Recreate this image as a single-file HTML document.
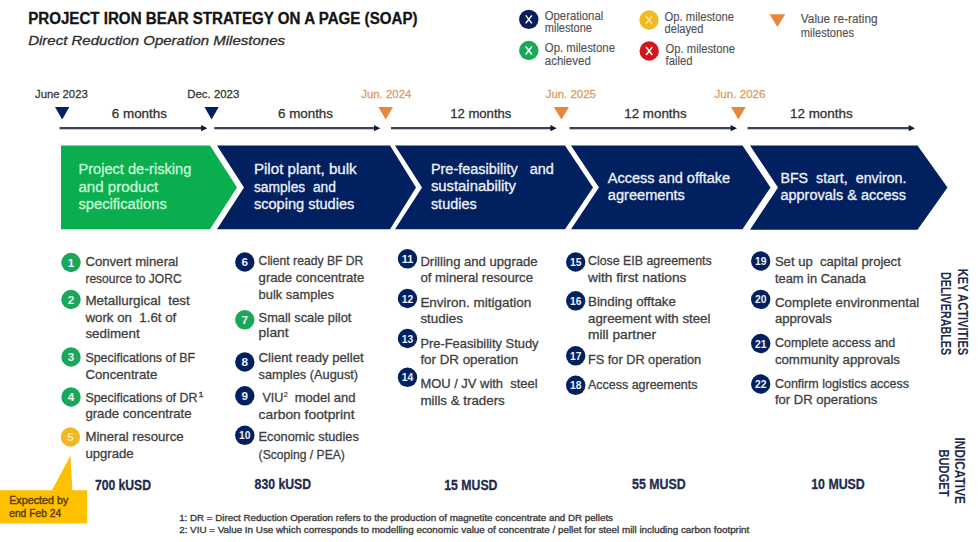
<!DOCTYPE html>
<html><head><meta charset="utf-8"><title>Project Iron Bear SOAP</title>
<style>
html,body{margin:0;padding:0;background:#ffffff;}
body{width:980px;height:542px;overflow:hidden;}
svg{display:block;font-family:"Liberation Sans", sans-serif;}
text{white-space:pre;}
</style></head><body>
<svg width="980" height="542" viewBox="0 0 980 542">
<rect width="980" height="542" fill="#ffffff"/>
<text x="28.2" y="24.4" font-size="16" fill="#141414" stroke="#141414" stroke-width="0.3" font-weight="bold" font-style="normal" textLength="389.3" lengthAdjust="spacingAndGlyphs" >PROJECT IRON BEAR STRATEGY ON A PAGE (SOAP)</text>
<text x="28.2" y="44.8" font-size="12.8" fill="#2e2e2e" stroke="#2e2e2e" stroke-width="0.3" font-weight="normal" font-style="italic" textLength="256.8" lengthAdjust="spacingAndGlyphs" >Direct Reduction Operation Milestones</text>
<circle cx="528.8" cy="19.4" r="9.7" fill="#0b1d5c"/>
<path d="M525.6999999999999,15.399999999999999 L531.9,23.4 M531.9,15.399999999999999 L525.6999999999999,23.4" stroke="#ffffff" stroke-width="1.5" fill="none"/>
<circle cx="528.8" cy="50.5" r="9.7" fill="#1ba855"/>
<path d="M525.6999999999999,46.5 L531.9,54.5 M531.9,46.5 L525.6999999999999,54.5" stroke="#ffffff" stroke-width="1.5" fill="none"/>
<circle cx="649" cy="20" r="9.7" fill="#f2b920"/>
<path d="M645.9,16 L652.1,24 M652.1,16 L645.9,24" stroke="#fbe6a0" stroke-width="1.5" fill="none"/>
<circle cx="649.2" cy="51" r="9.7" fill="#d3141c"/>
<path d="M646.1,47 L652.3000000000001,55 M652.3000000000001,47 L646.1,55" stroke="#ffffff" stroke-width="1.5" fill="none"/>
<text x="544.8" y="20.3" font-size="12" fill="#505050" stroke="#505050" stroke-width="0.12" font-weight="normal" font-style="normal" textLength="58.4" lengthAdjust="spacingAndGlyphs" >Operational</text>
<text x="544.8" y="32.4" font-size="12" fill="#505050" stroke="#505050" stroke-width="0.12" font-weight="normal" font-style="normal" textLength="47.1" lengthAdjust="spacingAndGlyphs" >milestone</text>
<text x="544.8" y="52.1" font-size="12" fill="#505050" stroke="#505050" stroke-width="0.12" font-weight="normal" font-style="normal" textLength="70.2" lengthAdjust="spacingAndGlyphs" >Op. milestone</text>
<text x="544.8" y="64.5" font-size="12" fill="#505050" stroke="#505050" stroke-width="0.12" font-weight="normal" font-style="normal" textLength="46.0" lengthAdjust="spacingAndGlyphs" >achieved</text>
<text x="664.5" y="21.2" font-size="12" fill="#505050" stroke="#505050" stroke-width="0.12" font-weight="normal" font-style="normal" textLength="69.5" lengthAdjust="spacingAndGlyphs" >Op. milestone</text>
<text x="664.5" y="33.0" font-size="12" fill="#505050" stroke="#505050" stroke-width="0.12" font-weight="normal" font-style="normal" textLength="39.0" lengthAdjust="spacingAndGlyphs" >delayed</text>
<text x="665.6" y="52.9" font-size="12" fill="#505050" stroke="#505050" stroke-width="0.12" font-weight="normal" font-style="normal" textLength="69.3" lengthAdjust="spacingAndGlyphs" >Op. milestone</text>
<text x="665.6" y="64.9" font-size="12" fill="#505050" stroke="#505050" stroke-width="0.12" font-weight="normal" font-style="normal" textLength="27.0" lengthAdjust="spacingAndGlyphs" >failed</text>
<polygon points="769.6,14.2 785.2,14.2 777.4,27.0" fill="#e8873a"/>
<text x="800.8" y="23.0" font-size="12" fill="#505050" stroke="#505050" stroke-width="0.12" font-weight="normal" font-style="normal" textLength="76.8" lengthAdjust="spacingAndGlyphs" >Value re-rating</text>
<text x="800.8" y="36.8" font-size="12" fill="#505050" stroke="#505050" stroke-width="0.12" font-weight="normal" font-style="normal" textLength="53.2" lengthAdjust="spacingAndGlyphs" >milestones</text>
<text x="35.0" y="98.4" font-size="11.5" fill="#3a3a3a" stroke="#3a3a3a" stroke-width="0.3" font-weight="normal" font-style="normal" textLength="52.7" lengthAdjust="spacingAndGlyphs" >June 2023</text>
<text x="187.3" y="97.6" font-size="11.5" fill="#3a3a3a" stroke="#3a3a3a" stroke-width="0.3" font-weight="normal" font-style="normal" textLength="52.0" lengthAdjust="spacingAndGlyphs" >Dec. 2023</text>
<text x="361.2" y="98.4" font-size="11.5" fill="#d9a066" stroke="#d9a066" stroke-width="0.3" font-weight="normal" font-style="normal" textLength="50.2" lengthAdjust="spacingAndGlyphs" >Jun. 2024</text>
<text x="545.7" y="98.2" font-size="11.5" fill="#d9a066" stroke="#d9a066" stroke-width="0.3" font-weight="normal" font-style="normal" textLength="50.2" lengthAdjust="spacingAndGlyphs" >Jun. 2025</text>
<text x="714.5" y="98.2" font-size="11.5" fill="#d9a066" stroke="#d9a066" stroke-width="0.3" font-weight="normal" font-style="normal" textLength="51.0" lengthAdjust="spacingAndGlyphs" >Jun. 2026</text>
<polygon points="55.0,107.0 69.4,107.0 62.2,119.5" fill="#002060"/>
<polygon points="204.5,107.0 218.7,107.0 211.6,119.5" fill="#002060"/>
<polygon points="378.4,107.0 393.0,107.0 385.7,119.5" fill="#e8873a"/>
<polygon points="553.8,107.0 569.0,107.0 561.4,119.5" fill="#e8873a"/>
<polygon points="731.0,107.0 745.7,107.0 738.4,119.5" fill="#e8873a"/>
<rect x="59.5" y="127" width="142.9" height="2.3" fill="#3b4456"/>
<polygon points="201.1,125.1 207.4,128.2 201.1,131.2" fill="#121a33"/>
<rect x="214.3" y="127" width="161.0" height="2.3" fill="#3b4456"/>
<polygon points="374.0,125.1 380.3,128.2 374.0,131.2" fill="#121a33"/>
<rect x="391" y="127" width="160.7" height="2.3" fill="#3b4456"/>
<polygon points="550.4,125.1 556.7,128.2 550.4,131.2" fill="#121a33"/>
<rect x="569.5" y="127" width="162.5" height="2.3" fill="#3b4456"/>
<polygon points="730.7,125.1 737.0,128.2 730.7,131.2" fill="#121a33"/>
<rect x="747.5" y="127" width="162.5" height="2.3" fill="#3b4456"/>
<polygon points="908.7,125.1 915.0,128.2 908.7,131.2" fill="#121a33"/>
<text x="111.8" y="117.5" font-size="13" fill="#333333" stroke="#333333" stroke-width="0.3" font-weight="normal" font-style="normal" textLength="55.2" lengthAdjust="spacingAndGlyphs" >6 months</text>
<text x="278.0" y="117.5" font-size="13" fill="#333333" stroke="#333333" stroke-width="0.3" font-weight="normal" font-style="normal" textLength="55.0" lengthAdjust="spacingAndGlyphs" >6 months</text>
<text x="450.2" y="117.5" font-size="13" fill="#333333" stroke="#333333" stroke-width="0.3" font-weight="normal" font-style="normal" textLength="61.2" lengthAdjust="spacingAndGlyphs" >12 months</text>
<text x="624.3" y="117.5" font-size="13" fill="#333333" stroke="#333333" stroke-width="0.3" font-weight="normal" font-style="normal" textLength="62.4" lengthAdjust="spacingAndGlyphs" >12 months</text>
<text x="790.0" y="117.5" font-size="13" fill="#333333" stroke="#333333" stroke-width="0.3" font-weight="normal" font-style="normal" textLength="62.6" lengthAdjust="spacingAndGlyphs" >12 months</text>
<polygon points="61.0,145.6 210.0,145.6 237.0,187.4 210.0,229.2 61.0,229.2" fill="#0aae4e"/>
<polygon points="217.0,145.6 390.0,145.6 416.0,187.4 390.0,229.2 217.0,229.2 244.0,187.4" fill="#002060"/>
<polygon points="395.0,145.6 565.0,145.6 593.0,187.4 565.0,229.2 395.0,229.2 422.0,187.4" fill="#002060"/>
<polygon points="571.0,145.6 742.5,145.6 770.5,187.4 742.5,229.2 571.0,229.2 599.0,187.4" fill="#002060"/>
<polygon points="750.0,145.6 917.5,145.6 947.5,187.4 917.5,229.8 750.0,229.8 778.0,187.4" fill="#002060"/>
<text x="78.4" y="174.0" font-size="14" fill="#c9f6d5" stroke="#c9f6d5" stroke-width="0.3" font-weight="normal" font-style="normal" textLength="113.0" lengthAdjust="spacingAndGlyphs" >Project de-risking</text>
<text x="78.4" y="191.5" font-size="14" fill="#c9f6d5" stroke="#c9f6d5" stroke-width="0.3" font-weight="normal" font-style="normal" textLength="79.8" lengthAdjust="spacingAndGlyphs" >and product</text>
<text x="78.4" y="209.0" font-size="14" fill="#c9f6d5" stroke="#c9f6d5" stroke-width="0.3" font-weight="normal" font-style="normal" textLength="88.4" lengthAdjust="spacingAndGlyphs" >specifications</text>
<text x="253.9" y="174.2" font-size="14" fill="#eef0f8" stroke="#eef0f8" stroke-width="0.3" font-weight="normal" font-style="normal" textLength="102.8" lengthAdjust="spacingAndGlyphs" >Pilot plant, bulk</text>
<text x="253.9" y="191.8" font-size="14" fill="#eef0f8" stroke="#eef0f8" stroke-width="0.3" font-weight="normal" font-style="normal" textLength="82.0" lengthAdjust="spacingAndGlyphs" >samples  and</text>
<text x="253.9" y="209.2" font-size="14" fill="#eef0f8" stroke="#eef0f8" stroke-width="0.3" font-weight="normal" font-style="normal" textLength="100.4" lengthAdjust="spacingAndGlyphs" >scoping studies</text>
<text x="430.9" y="173.7" font-size="14" fill="#eef0f8" stroke="#eef0f8" stroke-width="0.3" font-weight="normal" font-style="normal" textLength="123.0" lengthAdjust="spacingAndGlyphs" >Pre-feasibility   and</text>
<text x="430.9" y="191.3" font-size="14" fill="#eef0f8" stroke="#eef0f8" stroke-width="0.3" font-weight="normal" font-style="normal" textLength="85.0" lengthAdjust="spacingAndGlyphs" >sustainability</text>
<text x="430.9" y="208.7" font-size="14" fill="#eef0f8" stroke="#eef0f8" stroke-width="0.3" font-weight="normal" font-style="normal" textLength="45.8" lengthAdjust="spacingAndGlyphs" >studies</text>
<text x="607.8" y="182.8" font-size="14" fill="#eef0f8" stroke="#eef0f8" stroke-width="0.3" font-weight="normal" font-style="normal" textLength="122.4" lengthAdjust="spacingAndGlyphs" >Access and offtake</text>
<text x="607.8" y="200.2" font-size="14" fill="#eef0f8" stroke="#eef0f8" stroke-width="0.3" font-weight="normal" font-style="normal" textLength="77.1" lengthAdjust="spacingAndGlyphs" >agreements</text>
<text x="780.4" y="182.8" font-size="14" fill="#eef0f8" stroke="#eef0f8" stroke-width="0.3" font-weight="normal" font-style="normal" textLength="126.1" lengthAdjust="spacingAndGlyphs" >BFS  start,  environ.</text>
<text x="780.4" y="200.2" font-size="14" fill="#eef0f8" stroke="#eef0f8" stroke-width="0.3" font-weight="normal" font-style="normal" textLength="125.6" lengthAdjust="spacingAndGlyphs" >approvals &amp; access</text>
<circle cx="71" cy="262.5" r="9.7" fill="#1aa75a"/>
<text x="71" y="266.5" font-size="11" font-weight="bold" fill="#eef2fa" text-anchor="middle" textLength="6.5" lengthAdjust="spacingAndGlyphs">1</text>
<text x="85.4" y="266.2" font-size="13" fill="#3f3f3f" stroke="#3f3f3f" stroke-width="0.3" font-weight="normal" font-style="normal" textLength="92.9" lengthAdjust="spacingAndGlyphs" >Convert mineral</text>
<text x="85.4" y="282.8" font-size="13" fill="#3f3f3f" stroke="#3f3f3f" stroke-width="0.3" font-weight="normal" font-style="normal" textLength="96.2" lengthAdjust="spacingAndGlyphs" >resource to JORC</text>
<circle cx="71" cy="299.5" r="9.7" fill="#1aa75a"/>
<text x="71" y="303.5" font-size="11" font-weight="bold" fill="#eef2fa" text-anchor="middle" textLength="6.5" lengthAdjust="spacingAndGlyphs">2</text>
<text x="85.4" y="305.0" font-size="13" fill="#3f3f3f" stroke="#3f3f3f" stroke-width="0.3" font-weight="normal" font-style="normal" textLength="104.4" lengthAdjust="spacingAndGlyphs" >Metallurgical  test</text>
<text x="85.4" y="321.6" font-size="13" fill="#3f3f3f" stroke="#3f3f3f" stroke-width="0.3" font-weight="normal" font-style="normal" textLength="90.9" lengthAdjust="spacingAndGlyphs" >work on  1.6t of</text>
<text x="85.4" y="338.2" font-size="13" fill="#3f3f3f" stroke="#3f3f3f" stroke-width="0.3" font-weight="normal" font-style="normal" textLength="54.2" lengthAdjust="spacingAndGlyphs" >sediment</text>
<circle cx="71" cy="357" r="9.7" fill="#1aa75a"/>
<text x="71" y="361" font-size="11" font-weight="bold" fill="#eef2fa" text-anchor="middle" textLength="6.5" lengthAdjust="spacingAndGlyphs">3</text>
<text x="85.4" y="362.1" font-size="13" fill="#3f3f3f" stroke="#3f3f3f" stroke-width="0.3" font-weight="normal" font-style="normal" textLength="109.8" lengthAdjust="spacingAndGlyphs" >Specifications of BF</text>
<text x="85.4" y="378.8" font-size="13" fill="#3f3f3f" stroke="#3f3f3f" stroke-width="0.3" font-weight="normal" font-style="normal" textLength="72.0" lengthAdjust="spacingAndGlyphs" >Concentrate</text>
<circle cx="71" cy="397" r="9.7" fill="#1aa75a"/>
<text x="71" y="401" font-size="11" font-weight="bold" fill="#eef2fa" text-anchor="middle" textLength="6.5" lengthAdjust="spacingAndGlyphs">4</text>
<text x="85.4" y="401.8" font-size="13" fill="#3f3f3f" stroke="#3f3f3f" stroke-width="0.3" font-weight="normal" font-style="normal" textLength="112.1" lengthAdjust="spacingAndGlyphs" >Specifications of DR</text>
<text x="85.4" y="417.5" font-size="13" fill="#3f3f3f" stroke="#3f3f3f" stroke-width="0.3" font-weight="normal" font-style="normal" textLength="106.2" lengthAdjust="spacingAndGlyphs" >grade concentrate</text>
<text x="198.5" y="396.5" font-size="8" fill="#3f3f3f" stroke="#3f3f3f" stroke-width="0.3" font-weight="normal" font-style="normal" textLength="5.0" lengthAdjust="spacingAndGlyphs" >1</text>
<circle cx="70.4" cy="437" r="9.7" fill="#f2b824"/>
<text x="70.4" y="441" font-size="11" font-weight="bold" fill="#ffe7a6" text-anchor="middle" textLength="6.5" lengthAdjust="spacingAndGlyphs">5</text>
<text x="85.4" y="441.4" font-size="13" fill="#3f3f3f" stroke="#3f3f3f" stroke-width="0.3" font-weight="normal" font-style="normal" textLength="98.3" lengthAdjust="spacingAndGlyphs" >Mineral resource</text>
<text x="85.4" y="458.4" font-size="13" fill="#3f3f3f" stroke="#3f3f3f" stroke-width="0.3" font-weight="normal" font-style="normal" textLength="48.3" lengthAdjust="spacingAndGlyphs" >upgrade</text>
<circle cx="244.8" cy="262" r="9.7" fill="#002060"/>
<text x="244.8" y="266" font-size="11" font-weight="bold" fill="#eef2fa" text-anchor="middle" textLength="6.5" lengthAdjust="spacingAndGlyphs">6</text>
<text x="258.6" y="265.3" font-size="13" fill="#3f3f3f" stroke="#3f3f3f" stroke-width="0.3" font-weight="normal" font-style="normal" textLength="104.8" lengthAdjust="spacingAndGlyphs" >Client ready BF DR</text>
<text x="258.6" y="281.9" font-size="13" fill="#3f3f3f" stroke="#3f3f3f" stroke-width="0.3" font-weight="normal" font-style="normal" textLength="105.7" lengthAdjust="spacingAndGlyphs" >grade concentrate</text>
<text x="258.6" y="298.5" font-size="13" fill="#3f3f3f" stroke="#3f3f3f" stroke-width="0.3" font-weight="normal" font-style="normal" textLength="75.3" lengthAdjust="spacingAndGlyphs" >bulk samples</text>
<circle cx="244.8" cy="319.8" r="9.7" fill="#1aa75a"/>
<text x="244.8" y="323.8" font-size="11" font-weight="bold" fill="#eef2fa" text-anchor="middle" textLength="6.5" lengthAdjust="spacingAndGlyphs">7</text>
<text x="258.6" y="321.6" font-size="13" fill="#3f3f3f" stroke="#3f3f3f" stroke-width="0.3" font-weight="normal" font-style="normal" textLength="92.8" lengthAdjust="spacingAndGlyphs" >Small scale pilot</text>
<text x="258.6" y="337.3" font-size="13" fill="#3f3f3f" stroke="#3f3f3f" stroke-width="0.3" font-weight="normal" font-style="normal" textLength="30.1" lengthAdjust="spacingAndGlyphs" >plant</text>
<circle cx="244.8" cy="362" r="9.7" fill="#002060"/>
<text x="244.8" y="366" font-size="11" font-weight="bold" fill="#eef2fa" text-anchor="middle" textLength="6.5" lengthAdjust="spacingAndGlyphs">8</text>
<text x="258.6" y="362.0" font-size="13" fill="#3f3f3f" stroke="#3f3f3f" stroke-width="0.3" font-weight="normal" font-style="normal" textLength="105.0" lengthAdjust="spacingAndGlyphs" >Client ready pellet</text>
<text x="258.6" y="378.9" font-size="13" fill="#3f3f3f" stroke="#3f3f3f" stroke-width="0.3" font-weight="normal" font-style="normal" textLength="99.5" lengthAdjust="spacingAndGlyphs" >samples (August)</text>
<circle cx="244.8" cy="395.8" r="9.7" fill="#002060"/>
<text x="244.8" y="399.8" font-size="11" font-weight="bold" fill="#eef2fa" text-anchor="middle" textLength="6.5" lengthAdjust="spacingAndGlyphs">9</text>
<text x="262.4" y="401.9" font-size="13" fill="#3f3f3f" stroke="#3f3f3f" stroke-width="0.3" font-weight="normal" font-style="normal" textLength="21.0" lengthAdjust="spacingAndGlyphs" >VIU</text>
<text x="283.8" y="397.0" font-size="7.5" fill="#3f3f3f" stroke="#3f3f3f" stroke-width="0.2" font-weight="normal" font-style="normal" textLength="4.0" lengthAdjust="spacingAndGlyphs" >2</text>
<text x="294.7" y="401.9" font-size="13" fill="#3f3f3f" stroke="#3f3f3f" stroke-width="0.3" font-weight="normal" font-style="normal" textLength="60.8" lengthAdjust="spacingAndGlyphs" >model and</text>
<text x="258.6" y="418.7" font-size="13" fill="#3f3f3f" stroke="#3f3f3f" stroke-width="0.3" font-weight="normal" font-style="normal" textLength="95.9" lengthAdjust="spacingAndGlyphs" >carbon footprint</text>
<circle cx="244.8" cy="435.3" r="9.7" fill="#002060"/>
<text x="244.8" y="439.3" font-size="11" font-weight="bold" fill="#eef2fa" text-anchor="middle" textLength="11.5" lengthAdjust="spacingAndGlyphs">10</text>
<text x="258.6" y="441.2" font-size="13" fill="#3f3f3f" stroke="#3f3f3f" stroke-width="0.3" font-weight="normal" font-style="normal" textLength="100.2" lengthAdjust="spacingAndGlyphs" >Economic studies</text>
<text x="258.6" y="458.7" font-size="13" fill="#3f3f3f" stroke="#3f3f3f" stroke-width="0.3" font-weight="normal" font-style="normal" textLength="86.3" lengthAdjust="spacingAndGlyphs" >(Scoping / PEA)</text>
<circle cx="407.5" cy="258.8" r="9.7" fill="#002060"/>
<text x="407.5" y="262.8" font-size="11" font-weight="bold" fill="#eef2fa" text-anchor="middle" textLength="11.5" lengthAdjust="spacingAndGlyphs">11</text>
<text x="420.4" y="265.7" font-size="13" fill="#3f3f3f" stroke="#3f3f3f" stroke-width="0.3" font-weight="normal" font-style="normal" textLength="117.2" lengthAdjust="spacingAndGlyphs" >Drilling and upgrade</text>
<text x="420.4" y="282.3" font-size="13" fill="#3f3f3f" stroke="#3f3f3f" stroke-width="0.3" font-weight="normal" font-style="normal" textLength="112.6" lengthAdjust="spacingAndGlyphs" >of mineral resource</text>
<circle cx="407.5" cy="298.5" r="9.7" fill="#002060"/>
<text x="407.5" y="302.5" font-size="11" font-weight="bold" fill="#eef2fa" text-anchor="middle" textLength="11.5" lengthAdjust="spacingAndGlyphs">12</text>
<text x="420.4" y="306.5" font-size="13" fill="#3f3f3f" stroke="#3f3f3f" stroke-width="0.3" font-weight="normal" font-style="normal" textLength="110.8" lengthAdjust="spacingAndGlyphs" >Environ. mitigation</text>
<text x="420.4" y="323.4" font-size="13" fill="#3f3f3f" stroke="#3f3f3f" stroke-width="0.3" font-weight="normal" font-style="normal" textLength="42.5" lengthAdjust="spacingAndGlyphs" >studies</text>
<circle cx="407.5" cy="338.5" r="9.7" fill="#002060"/>
<text x="407.5" y="342.5" font-size="11" font-weight="bold" fill="#eef2fa" text-anchor="middle" textLength="11.5" lengthAdjust="spacingAndGlyphs">13</text>
<text x="420.4" y="347.7" font-size="13" fill="#3f3f3f" stroke="#3f3f3f" stroke-width="0.3" font-weight="normal" font-style="normal" textLength="118.1" lengthAdjust="spacingAndGlyphs" >Pre-Feasibility Study</text>
<text x="420.4" y="364.3" font-size="13" fill="#3f3f3f" stroke="#3f3f3f" stroke-width="0.3" font-weight="normal" font-style="normal" textLength="97.9" lengthAdjust="spacingAndGlyphs" >for DR operation</text>
<circle cx="407.5" cy="377.3" r="9.7" fill="#002060"/>
<text x="407.5" y="381.3" font-size="11" font-weight="bold" fill="#eef2fa" text-anchor="middle" textLength="11.5" lengthAdjust="spacingAndGlyphs">14</text>
<text x="420.4" y="388.3" font-size="13" fill="#3f3f3f" stroke="#3f3f3f" stroke-width="0.3" font-weight="normal" font-style="normal" textLength="117.2" lengthAdjust="spacingAndGlyphs" >MOU / JV with  steel</text>
<text x="420.4" y="404.9" font-size="13" fill="#3f3f3f" stroke="#3f3f3f" stroke-width="0.3" font-weight="normal" font-style="normal" textLength="84.4" lengthAdjust="spacingAndGlyphs" >mills &amp; traders</text>
<circle cx="575.7" cy="262" r="9.7" fill="#002060"/>
<text x="575.7" y="266" font-size="11" font-weight="bold" fill="#eef2fa" text-anchor="middle" textLength="11.5" lengthAdjust="spacingAndGlyphs">15</text>
<text x="588.0" y="265.3" font-size="13" fill="#3f3f3f" stroke="#3f3f3f" stroke-width="0.3" font-weight="normal" font-style="normal" textLength="123.7" lengthAdjust="spacingAndGlyphs" >Close EIB agreements</text>
<text x="588.0" y="281.9" font-size="13" fill="#3f3f3f" stroke="#3f3f3f" stroke-width="0.3" font-weight="normal" font-style="normal" textLength="98.4" lengthAdjust="spacingAndGlyphs" >with first nations</text>
<circle cx="575.7" cy="300.8" r="9.7" fill="#002060"/>
<text x="575.7" y="304.8" font-size="11" font-weight="bold" fill="#eef2fa" text-anchor="middle" textLength="11.5" lengthAdjust="spacingAndGlyphs">16</text>
<text x="588.0" y="305.9" font-size="13" fill="#3f3f3f" stroke="#3f3f3f" stroke-width="0.3" font-weight="normal" font-style="normal" textLength="87.9" lengthAdjust="spacingAndGlyphs" >Binding offtake</text>
<text x="588.0" y="322.5" font-size="13" fill="#3f3f3f" stroke="#3f3f3f" stroke-width="0.3" font-weight="normal" font-style="normal" textLength="122.4" lengthAdjust="spacingAndGlyphs" >agreement with steel</text>
<text x="588.0" y="339.1" font-size="13" fill="#3f3f3f" stroke="#3f3f3f" stroke-width="0.3" font-weight="normal" font-style="normal" textLength="68.0" lengthAdjust="spacingAndGlyphs" >mill partner</text>
<circle cx="575.7" cy="355.8" r="9.7" fill="#002060"/>
<text x="575.7" y="359.8" font-size="11" font-weight="bold" fill="#eef2fa" text-anchor="middle" textLength="11.5" lengthAdjust="spacingAndGlyphs">17</text>
<text x="588.0" y="364.2" font-size="13" fill="#3f3f3f" stroke="#3f3f3f" stroke-width="0.3" font-weight="normal" font-style="normal" textLength="113.2" lengthAdjust="spacingAndGlyphs" >FS for DR operation</text>
<circle cx="575.7" cy="385.3" r="9.7" fill="#002060"/>
<text x="575.7" y="389.3" font-size="11" font-weight="bold" fill="#eef2fa" text-anchor="middle" textLength="11.5" lengthAdjust="spacingAndGlyphs">18</text>
<text x="588.0" y="388.5" font-size="13" fill="#3f3f3f" stroke="#3f3f3f" stroke-width="0.3" font-weight="normal" font-style="normal" textLength="109.5" lengthAdjust="spacingAndGlyphs" >Access agreements</text>
<circle cx="760.7" cy="261" r="9.7" fill="#002060"/>
<text x="760.7" y="265" font-size="11" font-weight="bold" fill="#eef2fa" text-anchor="middle" textLength="11.5" lengthAdjust="spacingAndGlyphs">19</text>
<text x="774.9" y="265.7" font-size="13" fill="#3f3f3f" stroke="#3f3f3f" stroke-width="0.3" font-weight="normal" font-style="normal" textLength="125.9" lengthAdjust="spacingAndGlyphs" >Set up  capital project</text>
<text x="774.9" y="282.8" font-size="13" fill="#3f3f3f" stroke="#3f3f3f" stroke-width="0.3" font-weight="normal" font-style="normal" textLength="90.9" lengthAdjust="spacingAndGlyphs" >team in Canada</text>
<circle cx="760.7" cy="299.4" r="9.7" fill="#002060"/>
<text x="760.7" y="303.4" font-size="11" font-weight="bold" fill="#eef2fa" text-anchor="middle" textLength="11.5" lengthAdjust="spacingAndGlyphs">20</text>
<text x="774.9" y="306.8" font-size="13" fill="#3f3f3f" stroke="#3f3f3f" stroke-width="0.3" font-weight="normal" font-style="normal" textLength="144.4" lengthAdjust="spacingAndGlyphs" >Complete environmental</text>
<text x="774.9" y="323.4" font-size="13" fill="#3f3f3f" stroke="#3f3f3f" stroke-width="0.3" font-weight="normal" font-style="normal" textLength="56.8" lengthAdjust="spacingAndGlyphs" >approvals</text>
<circle cx="760.7" cy="343.5" r="9.7" fill="#002060"/>
<text x="760.7" y="347.5" font-size="11" font-weight="bold" fill="#eef2fa" text-anchor="middle" textLength="11.5" lengthAdjust="spacingAndGlyphs">21</text>
<text x="774.9" y="347.1" font-size="13" fill="#3f3f3f" stroke="#3f3f3f" stroke-width="0.3" font-weight="normal" font-style="normal" textLength="120.4" lengthAdjust="spacingAndGlyphs" >Complete access and</text>
<text x="774.9" y="363.7" font-size="13" fill="#3f3f3f" stroke="#3f3f3f" stroke-width="0.3" font-weight="normal" font-style="normal" textLength="125.1" lengthAdjust="spacingAndGlyphs" >community approvals</text>
<circle cx="760.7" cy="384" r="9.7" fill="#002060"/>
<text x="760.7" y="388" font-size="11" font-weight="bold" fill="#eef2fa" text-anchor="middle" textLength="11.5" lengthAdjust="spacingAndGlyphs">22</text>
<text x="774.9" y="387.7" font-size="13" fill="#3f3f3f" stroke="#3f3f3f" stroke-width="0.3" font-weight="normal" font-style="normal" textLength="134.2" lengthAdjust="spacingAndGlyphs" >Confirm logistics access</text>
<text x="774.9" y="404.3" font-size="13" fill="#3f3f3f" stroke="#3f3f3f" stroke-width="0.3" font-weight="normal" font-style="normal" textLength="102.5" lengthAdjust="spacingAndGlyphs" >for DR operations</text>
<text transform="translate(957.6,268.8) rotate(90)" x="0" y="0" font-size="14" fill="#1f2a4a" font-weight="bold" textLength="86.4" lengthAdjust="spacingAndGlyphs">KEY ACTIVITIES</text>
<text transform="translate(941.0,272.0) rotate(90)" x="0" y="0" font-size="14" fill="#1f2a4a" font-weight="bold" textLength="83.2" lengthAdjust="spacingAndGlyphs">DELIVERABLES</text>
<text transform="translate(955.0,437.5) rotate(90)" x="0" y="0" font-size="14" fill="#1f2a4a" font-weight="bold" textLength="66.5" lengthAdjust="spacingAndGlyphs">INDICATIVE</text>
<text transform="translate(939.4,449.5) rotate(90)" x="0" y="0" font-size="14" fill="#1f2a4a" font-weight="bold" textLength="47.1" lengthAdjust="spacingAndGlyphs">BUDGET</text>
<text x="94.9" y="490.4" font-size="14" fill="#1e2b4d" stroke="#1e2b4d" stroke-width="0.3" font-weight="bold" font-style="normal" textLength="56.1" lengthAdjust="spacingAndGlyphs" >700 kUSD</text>
<text x="254.6" y="489.3" font-size="14" fill="#1e2b4d" stroke="#1e2b4d" stroke-width="0.3" font-weight="bold" font-style="normal" textLength="56.5" lengthAdjust="spacingAndGlyphs" >830 kUSD</text>
<text x="444.3" y="489.6" font-size="14" fill="#1e2b4d" stroke="#1e2b4d" stroke-width="0.3" font-weight="bold" font-style="normal" textLength="53.1" lengthAdjust="spacingAndGlyphs" >15 MUSD</text>
<text x="632.1" y="489.3" font-size="14" fill="#1e2b4d" stroke="#1e2b4d" stroke-width="0.3" font-weight="bold" font-style="normal" textLength="53.6" lengthAdjust="spacingAndGlyphs" >55 MUSD</text>
<text x="811.2" y="489.3" font-size="14" fill="#1e2b4d" stroke="#1e2b4d" stroke-width="0.3" font-weight="bold" font-style="normal" textLength="53.6" lengthAdjust="spacingAndGlyphs" >10 MUSD</text>
<polygon points="0.0,490.2 52.0,490.2 70.4,455.7 72.4,490.2 87.2,490.2 87.2,523.5 0.0,523.5" fill="#ffc000"/>
<text x="9.2" y="503.7" font-size="11" fill="#5e4100" stroke="#5e4100" stroke-width="0.45" font-weight="normal" font-style="normal" textLength="59.2" lengthAdjust="spacingAndGlyphs" >Expected by</text>
<text x="9.2" y="517.0" font-size="11" fill="#5e4100" stroke="#5e4100" stroke-width="0.45" font-weight="normal" font-style="normal" textLength="52.0" lengthAdjust="spacingAndGlyphs" >end Feb 24</text>
<text x="179.2" y="521.0" font-size="8.6" fill="#3a3a3a" stroke="#3a3a3a" stroke-width="0.3" font-weight="normal" font-style="normal" textLength="433.8" lengthAdjust="spacingAndGlyphs" >1: DR = Direct Reduction Operation refers to the production of magnetite concentrate and DR pellets</text>
<text x="179.2" y="533.2" font-size="8.6" fill="#3a3a3a" stroke="#3a3a3a" stroke-width="0.3" font-weight="normal" font-style="normal" textLength="570.1" lengthAdjust="spacingAndGlyphs" >2: VIU = Value In Use which corresponds to modelling economic value of concentrate / pellet for steel mill including carbon footprint</text>
</svg>
</body></html>
